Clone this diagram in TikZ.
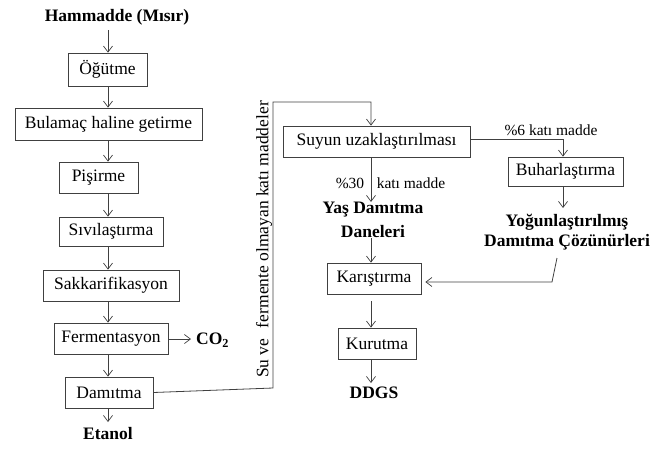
\documentclass[tikz,border=0pt]{standalone}
\usepackage{fontspec}
\setmainfont{Liberation Serif}
\usetikzlibrary{arrows.meta}
\definecolor{ln}{HTML}{404040}
\tikzset{
  box/.style={draw=ln, line width=0.8pt, inner sep=0pt, font=\fontsize{17.5}{20}\selectfont, text=black},
  lbl/.style={inner sep=0pt, font=\fontsize{17.5}{24}\selectfont\bfseries, align=center},
  small/.style={inner sep=0pt, font=\fontsize{15.5}{18}\selectfont},
  conn/.style={draw=ln, line width=0.8pt},
  arr/.style={conn, -{Straight Barb[length=6pt,width=9pt,line width=0.7pt]}}
}
\begin{document}
\begin{tikzpicture}[x=1pt,y=-1pt]
\useasboundingbox (0,0) rectangle (654,448);
% left column
\node[lbl] (ham) at (117,17) {Hammadde (Mısır)};
\node[box, minimum width=79pt, minimum height=33pt] (ogu) at (107.5,69.5) {Öğütme};
\node[box, minimum width=187pt, minimum height=32pt] (bul) at (108.5,124) {Bulamaç haline getirme};
\node[box, minimum width=79pt, minimum height=31pt] (pis) at (98.5,177.5) {Pişirme};
\node[box, minimum width=104pt, minimum height=29pt] (siv) at (111,231.5) {Sıvılaştırma};
\node[box, minimum width=136pt, minimum height=31pt] (sak) at (111,285.5) {Sakkarifikasyon};
\node[box, minimum width=114pt, minimum height=31pt] (fer) at (111,338.5) {Fermentasyon};
\node[box, minimum width=88pt, minimum height=31pt] (dam) at (109,392.5) {Damıtma};
\node[lbl] (eta) at (108,434) {Etanol};
\node[lbl, anchor=west] (co2) at (196,340) {CO\textsubscript{2}};
\coordinate (ax) at (108,0);
\coordinate (hamb) at (108,30);
\draw[arr] (hamb) -- (ogu.north -| ax);
\draw[arr] (ogu.south -| ax) -- (bul.north -| ax);
\draw[arr] (bul.south -| ax) -- (pis.north -| ax);
\draw[arr] (pis.south -| ax) -- (siv.north -| ax);
\draw[arr] (siv.south -| ax) -- (sak.north -| ax);
\draw[arr] (sak.south -| ax) -- (fer.north -| ax);
\draw[arr] (fer.south -| ax) -- (dam.north -| ax);
\draw[arr] (dam.south -| ax) -- (108,422);
\draw[arr] (fer.east) ++(0,0.5) -- (191,339);
% connection to right column
\coordinate (c1) at (273,388);
\coordinate (c2) at (273,102);
\node[box, minimum width=187pt, minimum height=31pt] (suy) at (376.5,141.5) {Suyun uzaklaştırılması};
\coordinate (bx) at (371,0);
\draw[arr] (dam.east) -- (c1) -- (c2) -- (c2 -| bx) -- (suy.north -| bx);
\node[font=\fontsize{17.5}{20}\selectfont, rotate=90, inner sep=0pt] (vt) at (264,239.5) {Su ve\hspace{0.35em} fermente olmayan katı maddeler};
% middle column
\node[lbl] (yas) at (373,220) {Yaş Damıtma\\Daneleri};
\node[small] (p30) at (350,183) {\%30};
\node[small] (km) at (411,183) {katı madde};
\node[box, minimum width=94pt, minimum height=31pt] (kar) at (374,278.5) {Karıştırma};
\node[box, minimum width=78pt, minimum height=31pt] (kur) at (377,343.5) {Kurutma};
\node[lbl] (ddgs) at (374,393) {DDGS};
\draw[arr] (suy.south -| bx) -- (yas.north -| bx);
\draw[arr] (yas.south -| bx) -- (kar.north -| bx);
\draw[arr] (kar.south -| bx) ++(0,7) -- (kur.north -| bx);
\draw[arr] (kur.south -| bx) -- (371,383);
% right column
\node[box, minimum width=115pt, minimum height=29pt] (buh) at (565.5,171.5) {Buharlaştırma};
\node[small] (p6) at (551,130) {\%6 katı madde};
\node[lbl, font=\fontsize{17.5}{20}\selectfont\bfseries] (yog) at (567,232) {Yoğunlaştırılmış\\Damıtma Çözünürleri};
\coordinate (rx) at (563,0);
\draw[arr] (suy.east |- 0,139) -- (563,139) -- (buh.north -| rx);
\draw[arr] (buh.south -| rx) -- (563,208);
\coordinate (r1) at (557,258);
\coordinate (r2) at (552,282);
\draw[arr] (r1) -- (r2) -- ([xshift=4pt]kar.east |- r2);
\end{tikzpicture}
\end{document}
